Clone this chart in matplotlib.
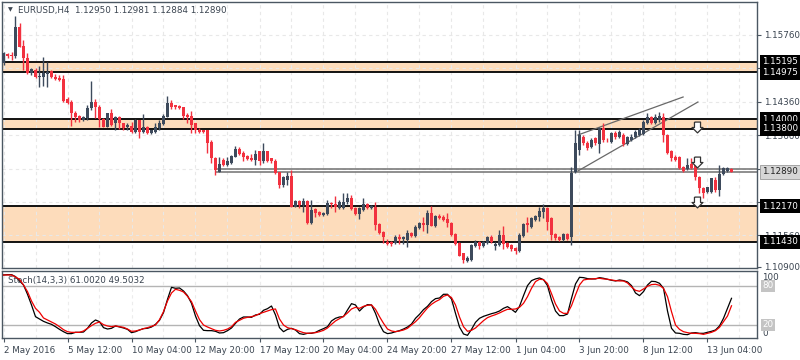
import numpy as np
import matplotlib
matplotlib.use('Agg')
import matplotlib.pyplot as plt
from matplotlib import transforms

plt.rcParams['font.family'] = ['DejaVu Sans']

# EURUSD H4 candles, 2 May 2016 20:00 onwards
opens = [1.1517, 1.1536, 1.1534, 1.1531, 1.1593, 1.1553, 1.1528, 1.1496, 1.1503, 1.1488,
         1.1488, 1.1494, 1.1501, 1.1488, 1.1486, 1.1484, 1.1441, 1.1436, 1.1413, 1.1406,
         1.1397, 1.1402, 1.1423, 1.1436, 1.1426, 1.1400, 1.1384, 1.1412, 1.1392, 1.1404,
         1.1391, 1.1383, 1.1385, 1.1373, 1.1397, 1.1373, 1.1384, 1.1371, 1.1373, 1.1381,
         1.1390, 1.1405, 1.1433, 1.1429, 1.1428, 1.1425, 1.1408, 1.1406, 1.1391, 1.1378,
         1.1376, 1.1376, 1.1352, 1.1318, 1.1290, 1.1314, 1.1304, 1.1307, 1.1321, 1.1337,
         1.1329, 1.1323, 1.1318, 1.1314, 1.1332, 1.1311, 1.1332, 1.1318, 1.1311, 1.1288,
         1.1262, 1.1272, 1.1281, 1.1216, 1.1229, 1.1220, 1.1229, 1.1183, 1.1211, 1.1206,
         1.1199, 1.1201, 1.1224, 1.1223, 1.1213, 1.1213, 1.1227, 1.1234, 1.1213, 1.1201,
         1.1209, 1.1223, 1.1213, 1.1216, 1.1180, 1.1164, 1.1143, 1.1143, 1.1140, 1.1153,
         1.1148, 1.1147, 1.1162, 1.1155, 1.1171, 1.1183, 1.1178, 1.1203, 1.1176, 1.1197,
         1.1195, 1.1190, 1.1183, 1.1159, 1.1140, 1.1119, 1.1103, 1.1105, 1.1134, 1.1143,
         1.1134, 1.1140, 1.1153, 1.1134, 1.1136, 1.1157, 1.1141, 1.1136, 1.1129, 1.1124,
         1.1155, 1.1182, 1.1173, 1.1188, 1.1195, 1.1206, 1.1213, 1.1192, 1.1159, 1.1153,
         1.1147, 1.1159, 1.1153, 1.1288, 1.1335, 1.1362, 1.1350, 1.1342, 1.1360, 1.1348,
         1.1381, 1.1357, 1.1352, 1.1371, 1.1362, 1.1366, 1.1348, 1.1356, 1.1363, 1.1366,
         1.1369, 1.1391, 1.1404, 1.1391, 1.1398, 1.1405, 1.1366, 1.1332, 1.1321, 1.1320,
         1.1300, 1.1295, 1.1306, 1.1304, 1.1279, 1.1255, 1.1248, 1.1248, 1.1272, 1.1251,
         1.1284, 1.1292, 1.12950]
highs = [1.1540, 1.1539, 1.1541, 1.1616, 1.1601, 1.1565, 1.1538, 1.1507, 1.1507, 1.1511,
         1.1530, 1.1519, 1.1503, 1.1494, 1.1492, 1.1492, 1.1446, 1.1440, 1.1417, 1.1408,
         1.1406, 1.1429, 1.1480, 1.1441, 1.1429, 1.1402, 1.1413, 1.1420, 1.1406, 1.1406,
         1.1392, 1.1391, 1.1394, 1.1401, 1.1398, 1.1410, 1.1385, 1.1377, 1.1392, 1.1397,
         1.1410, 1.1448, 1.1440, 1.1430, 1.1430, 1.1426, 1.1412, 1.1417, 1.1392, 1.1381,
         1.1378, 1.1377, 1.1357, 1.1321, 1.1321, 1.1318, 1.1321, 1.1325, 1.1344, 1.1342,
         1.1332, 1.1324, 1.1327, 1.1335, 1.1333, 1.1350, 1.1333, 1.1319, 1.1316, 1.1290,
         1.1281, 1.1290, 1.1293, 1.1230, 1.1230, 1.1234, 1.1230, 1.1230, 1.1213, 1.1208,
         1.1206, 1.1230, 1.1227, 1.1239, 1.1230, 1.1244, 1.1244, 1.1241, 1.1215, 1.1215,
         1.1234, 1.1225, 1.1220, 1.1227, 1.1182, 1.1166, 1.1148, 1.1145, 1.1157, 1.1159,
         1.1155, 1.1168, 1.1164, 1.1178, 1.1185, 1.1195, 1.1209, 1.1218, 1.1199, 1.1201,
         1.1199, 1.1203, 1.1185, 1.1161, 1.1143, 1.1120, 1.1112, 1.1138, 1.1147, 1.1145,
         1.1145, 1.1155, 1.1157, 1.1143, 1.1168, 1.1176, 1.1143, 1.1138, 1.1131, 1.1161,
         1.1183, 1.1195, 1.1195, 1.1199, 1.1216, 1.1222, 1.1215, 1.1194, 1.1162, 1.1155,
         1.1161, 1.1162, 1.1299, 1.1377, 1.1377, 1.1366, 1.1354, 1.1360, 1.1362, 1.1384,
         1.1391, 1.1360, 1.1373, 1.1375, 1.1377, 1.1371, 1.1364, 1.1369, 1.1377, 1.1381,
         1.1398, 1.1412, 1.1406, 1.1410, 1.1415, 1.1412, 1.1369, 1.1335, 1.1325, 1.1323,
         1.1302, 1.1318, 1.1318, 1.1307, 1.1281, 1.1258, 1.1258, 1.1277, 1.1279, 1.1304,
         1.1299, 1.1300, 1.12981]
lows = [1.1513, 1.1528, 1.1524, 1.1528, 1.1550, 1.1503, 1.1495, 1.1492, 1.1486, 1.1467,
        1.1469, 1.1467, 1.1486, 1.1482, 1.1480, 1.1436, 1.1431, 1.1385, 1.1394, 1.1394,
        1.1395, 1.1398, 1.1419, 1.1402, 1.1383, 1.1383, 1.1383, 1.1385, 1.1377, 1.1379,
        1.1378, 1.1378, 1.1371, 1.1371, 1.1360, 1.1371, 1.1369, 1.1369, 1.1371, 1.1378,
        1.1387, 1.1404, 1.1420, 1.1422, 1.1422, 1.1401, 1.1392, 1.1371, 1.1370, 1.1370,
        1.1371, 1.1329, 1.1308, 1.1283, 1.1288, 1.1302, 1.1302, 1.1306, 1.1320, 1.1325,
        1.1311, 1.1314, 1.1313, 1.1304, 1.1304, 1.1308, 1.1310, 1.1308, 1.1285, 1.1255,
        1.1257, 1.1262, 1.1215, 1.1215, 1.1213, 1.1206, 1.1180, 1.1180, 1.1194, 1.1197,
        1.1197, 1.1199, 1.1213, 1.1206, 1.1211, 1.1211, 1.1223, 1.1209, 1.1199, 1.1190,
        1.1208, 1.1211, 1.1211, 1.1168, 1.1159, 1.1141, 1.1136, 1.1134, 1.1138, 1.1138,
        1.1138, 1.1131, 1.1153, 1.1152, 1.1169, 1.1166, 1.1161, 1.1175, 1.1174, 1.1190,
        1.1187, 1.1173, 1.1155, 1.1136, 1.1112, 1.1099, 1.1101, 1.1103, 1.1131, 1.1127,
        1.1132, 1.1138, 1.1140, 1.1126, 1.1134, 1.1127, 1.1129, 1.1124, 1.1117, 1.1122,
        1.1153, 1.1164, 1.1171, 1.1187, 1.1187, 1.1192, 1.1168, 1.1147, 1.1147, 1.1145,
        1.1145, 1.1147, 1.1136, 1.1286, 1.1325, 1.1346, 1.1335, 1.1339, 1.1346, 1.1328,
        1.1352, 1.1352, 1.1350, 1.1358, 1.1360, 1.1343, 1.1346, 1.1354, 1.1361, 1.1364,
        1.1366, 1.1390, 1.1390, 1.1390, 1.1394, 1.1352, 1.1327, 1.1311, 1.1312, 1.1295,
        1.1290, 1.1293, 1.1295, 1.1272, 1.1244, 1.1234, 1.1244, 1.1246, 1.1248, 1.1239,
        1.1283, 1.1290, 1.12884]
closes = [1.1538, 1.1533, 1.1531, 1.1593, 1.1551, 1.1528, 1.1496, 1.1505, 1.1488, 1.1490,
          1.1496, 1.1498, 1.1488, 1.1484, 1.1482, 1.1438, 1.1434, 1.1412, 1.1404, 1.1397,
          1.1405, 1.1423, 1.1436, 1.1425, 1.1401, 1.1384, 1.1412, 1.1387, 1.1405, 1.1391,
          1.1381, 1.1387, 1.1373, 1.1397, 1.1373, 1.1383, 1.1371, 1.1376, 1.1383, 1.1391,
          1.1406, 1.1434, 1.1425, 1.1426, 1.1424, 1.1406, 1.1405, 1.1387, 1.1378, 1.1373,
          1.1373, 1.1350, 1.1318, 1.1293, 1.1306, 1.1304, 1.1313, 1.1323, 1.1337, 1.1327,
          1.1321, 1.1316, 1.1314, 1.1327, 1.1311, 1.1332, 1.1312, 1.1311, 1.1286, 1.1262,
          1.1278, 1.1281, 1.1216, 1.1229, 1.1220, 1.1229, 1.1183, 1.1209, 1.1204, 1.1199,
          1.1204, 1.1225, 1.1223, 1.1215, 1.1227, 1.1227, 1.1234, 1.1211, 1.1201, 1.1213,
          1.1223, 1.1213, 1.1218, 1.1178, 1.1162, 1.1153, 1.1138, 1.1138, 1.1153, 1.1148,
          1.1153, 1.1162, 1.1155, 1.1173, 1.1183, 1.1178, 1.1203, 1.1176, 1.1197, 1.1192,
          1.1188, 1.1183, 1.1157, 1.1138, 1.1113, 1.1105, 1.1108, 1.1136, 1.1143, 1.1134,
          1.1143, 1.1153, 1.1143, 1.1138, 1.1157, 1.1138, 1.1132, 1.1127, 1.1124, 1.1157,
          1.1180, 1.1178, 1.1192, 1.1197, 1.1208, 1.1213, 1.1185, 1.1157, 1.1150, 1.1147,
          1.1159, 1.1148, 1.1286, 1.1349, 1.1366, 1.1349, 1.1339, 1.1357, 1.1349, 1.1381,
          1.1355, 1.1355, 1.1371, 1.1362, 1.1373, 1.1348, 1.1362, 1.1363, 1.1373, 1.1377,
          1.1394, 1.1404, 1.1392, 1.1404, 1.1406, 1.1366, 1.1328, 1.1318, 1.1314, 1.1297,
          1.1292, 1.1304, 1.1297, 1.1279, 1.1255, 1.1244, 1.1257, 1.1276, 1.1251, 1.1284,
          1.1297, 1.1297, 1.12890]

# Stochastic (14,3,3): main and signal
stoch_main = [96.9, 97.4, 97.4, 94.4, 87.7, 81.5, 67.2, 50.8, 32.8, 29.2,
              25.6, 23.1, 21.0, 17.4, 13.3, 9.7, 6.7, 6.7, 8.7, 8.7,
              9.2, 14.9, 23.1, 27.7, 25.1, 15.9, 13.8, 14.9, 18.5, 16.9,
              15.4, 13.3, 8.2, 9.7, 12.3, 14.4, 14.9, 16.9, 21.0, 27.2,
              39.0, 59.5, 77.9, 76.4, 76.9, 72.3, 65.1, 53.3, 33.8, 19.0,
              11.8, 11.3, 11.3, 10.3, 7.7, 8.2, 11.3, 15.4, 22.6, 29.2,
              32.3, 32.3, 31.8, 35.4, 36.4, 42.6, 45.1, 49.2, 35.4, 15.9,
              9.7, 13.3, 14.9, 12.3, 6.7, 5.6, 7.2, 7.2, 8.7, 11.8,
              14.4, 17.4, 26.2, 30.3, 32.3, 32.8, 43.1, 52.8, 50.8, 41.5,
              47.7, 51.3, 50.8, 37.9, 21.0, 9.7, 6.7, 7.7, 9.7, 11.3,
              13.8, 16.9, 21.5, 30.3, 36.4, 43.6, 48.7, 55.9, 60.5, 61.5,
              67.2, 67.2, 60.0, 37.9, 16.9, 6.2, 4.1, 13.3, 24.1, 30.3,
              33.3, 35.4, 37.4, 39.0, 41.5, 45.6, 48.2, 44.1, 39.5, 48.7,
              65.1, 80.5, 88.2, 90.8, 92.3, 89.7, 80.5, 58.5, 41.5, 34.4,
              34.4, 36.9, 61.0, 83.1, 93.3, 92.8, 91.3, 90.8, 90.8, 92.8,
              91.8, 90.3, 88.7, 87.7, 89.2, 88.2, 86.2, 80.5, 69.2, 65.1,
              71.3, 81.5, 87.2, 86.7, 84.1, 76.4, 41.5, 14.9, 7.7, 7.2,
              5.6, 5.1, 7.7, 8.2, 7.2, 7.2, 8.7, 10.3, 12.3, 18.5,
              30.3, 45.6, 61.0]
stoch_signal = [96.9, 96.9, 96.9, 93.8, 90.3, 81.5, 71.3, 56.9, 45.6, 39.5,
                30.8, 27.7, 24.6, 21.5, 17.4, 12.8, 9.7, 8.7, 8.7, 8.7,
                10.8, 14.9, 19.0, 22.6, 24.6, 20.5, 18.5, 17.4, 18.5, 17.4,
                16.4, 13.8, 10.3, 10.8, 12.3, 14.4, 15.9, 17.9, 20.0, 28.2,
                40.5, 56.9, 69.2, 74.9, 73.3, 70.8, 64.1, 55.9, 41.5, 28.2,
                20.0, 16.9, 14.4, 11.8, 10.8, 11.8, 13.8, 17.4, 24.1, 27.2,
                30.3, 31.8, 32.8, 34.4, 37.4, 39.5, 41.5, 43.6, 44.6, 29.2,
                20.0, 15.9, 14.4, 12.8, 10.3, 8.2, 7.2, 7.7, 8.2, 9.7,
                11.8, 15.4, 21.0, 26.2, 29.7, 33.3, 38.5, 44.6, 47.2, 45.6,
                48.7, 50.3, 50.8, 44.1, 32.8, 22.6, 13.8, 10.8, 9.7, 10.8,
                12.3, 14.9, 20.0, 25.1, 31.3, 39.0, 46.2, 51.8, 55.9, 59.0,
                64.1, 66.2, 62.1, 50.8, 32.3, 17.4, 10.3, 11.8, 15.4, 21.0,
                26.7, 31.3, 33.8, 35.9, 38.5, 41.5, 44.1, 44.1, 44.6, 47.2,
                53.3, 63.6, 76.4, 86.7, 90.3, 89.7, 83.6, 68.2, 52.3, 41.5,
                37.9, 37.9, 49.7, 66.2, 81.5, 89.2, 90.3, 90.8, 91.3, 91.8,
                90.8, 90.3, 89.2, 88.2, 87.7, 87.7, 84.6, 78.5, 73.3, 71.8,
                75.4, 79.5, 82.1, 82.6, 81.0, 76.4, 63.6, 40.5, 20.0, 13.3,
                9.7, 8.2, 7.2, 7.2, 6.7, 5.6, 7.2, 8.7, 11.3, 16.4,
                25.1, 33.8, 49.5]

time_labels = ['2 May 2016', '5 May 12:00', '10 May 04:00', '12 May 20:00',
               '17 May 12:00', '20 May 04:00', '24 May 20:00', '27 May 12:00',
               '1 Jun 04:00', '3 Jun 20:00', '8 Jun 12:00', '13 Jun 04:00']
label_bars = list(range(0, 177, 16))

grid_prices = [1.15760, 1.15060, 1.14360, 1.13660, 1.12960, 1.12260, 1.11560, 1.10900]
# grid levels whose price label sits under a boxed level label
covered_prices = [1.15060, 1.12960, 1.12260]
zones = [(1.14975, 1.15195), (1.13800, 1.14000), (1.11430, 1.12170)]
price_lines = [1.12950, 1.12890]
price_lines_from = 53
wedge_upper = ([143.6, 169.9], [1.13665, 1.14461])
wedge_lower = ([143.6, 173.6], [1.12911, 1.14356])
arrow_bar = 173.5
arrow_prices = [1.13833, 1.13089, 1.12262]
boxed_black = [1.15195, 1.14975, 1.14000, 1.13800, 1.12170, 1.11430]
last_price = 1.12890

bull = '#3d4a5c'
bear = '#f2313f'
frame = '#4b5762'
txt = '#3a4450'
fs = 6.3

o = np.array(opens); h = np.array(highs); l = np.array(lows); c = np.array(closes)
idx = np.arange(len(c))
cols = np.where(c >= o, bull, bear)

fig = plt.figure(figsize=(8, 3.6), dpi=100)
W, H = 800.0, 360.0


def px_box(left, top, right, bottom):
    return [left / W, 1 - bottom / H, (right - left) / W, (bottom - top) / H]


ax = fig.add_axes(px_box(2, 2, 757, 268))
ax2 = fig.add_axes(px_box(2, 271, 757, 338))
x0, x1 = -0.375, 188.375

# main price panel
for lo, hi in zones:
    ax.axhspan(lo, hi, color='#fddcbb', lw=0, zorder=1)
for gp in grid_prices[:-1]:
    ax.axhline(gp, color='#e8e8e8', lw=0.8, ls=(0, (3, 3)), zorder=1.5)
for gx in range(0, 189, 8):
    ax.axvline(gx, color='#e8e8e8', lw=0.8, ls=(0, (3, 3)), zorder=1.5)
    ax2.axvline(gx, color='#ececec', lw=0.8, ls=(0, (3, 3)), zorder=1)
for lo, hi in zones:
    ax.axhline(lo, color='black', lw=1.3, zorder=2)
    ax.axhline(hi, color='black', lw=1.3, zorder=2)
ax.hlines(price_lines, price_lines_from, x1, color='#707070', lw=1.1, zorder=2)
ax.plot(*wedge_upper, color='#686868', lw=0.9, zorder=2.2)
ax.plot(*wedge_lower, color='#686868', lw=0.9, zorder=2.2)

ax.vlines(idx, l, h, colors=cols, lw=1, zorder=2.9)
body = np.maximum(np.abs(c - o), 0.00012)
ax.bar(idx, body, bottom=np.minimum(o, c), width=0.74, color=cols, lw=0, zorder=3)

arrow = [(-0.28, 0.5), (0.28, 0.5), (0.28, 0.0), (0.5, 0.0), (0.0, -0.5),
         (-0.5, 0.0), (-0.28, 0.0), (-0.28, 0.5)]
ax.plot([arrow_bar] * len(arrow_prices), arrow_prices, ls='none', marker=arrow,
        ms=7.8, mfc='white', mec='#333333', mew=0.9, zorder=4)

ax.set_xlim(x0, x1)
ax.set_ylim(1.10879, 1.16451)
ax.set_xticks([])
ax.yaxis.tick_right()
ax.set_yticks(grid_prices)
ax.set_yticklabels(['' if p in covered_prices else '%.5f' % p for p in grid_prices])
ax.tick_params(axis='y', length=3, width=0.8, color=frame, labelsize=fs,
               labelcolor=txt, pad=2)
for s in ax.spines.values():
    s.set_color(frame)
    s.set_linewidth(1)

tr = transforms.blended_transform_factory(ax.transAxes, ax.transData)
for p in boxed_black:
    ax.text(1.0068, p, '%.5f' % p, transform=tr, ha='left', va='center',
            fontsize=fs, color='white', clip_on=False, zorder=6,
            bbox=dict(boxstyle='square,pad=0.3', fc='black', ec='none'))
ax.text(1.0068, last_price, '%.5f' % last_price, transform=tr, ha='left', va='center',
        fontsize=fs, color='#222222', clip_on=False, zorder=6,
        bbox=dict(boxstyle='square,pad=0.3', fc='#d6d6d6', ec='#9a9a9a', lw=0.6))

fig.text(8 / W, 1 - 9.5 / H, '\u25bc', fontsize=4.5, color=txt, va='center')
fig.text(18 / W, 1 - 10 / H, 'EURUSD,H4  1.12950 1.12981 1.12884 1.12890',
         fontsize=fs, color=txt, va='center')

# stochastic panel
ax2.axhline(80, color='#b4b4b4', lw=1, zorder=1.5)
ax2.axhline(20, color='#b4b4b4', lw=1, zorder=1.5)
ax2.plot(idx, stoch_main, color='black', lw=0.9, zorder=3)
ax2.plot(idx, stoch_signal, color='#ee0000', lw=0.9, zorder=3.1)
ax2.set_xlim(x0, x1)
ax2.set_ylim(0, 103)
ax2.set_yticks([])
ax2.set_xticks(label_bars)
ax2.set_xticklabels(time_labels, ha='left')
ax2.tick_params(axis='x', length=3, width=0.8, color=frame, labelsize=fs,
                labelcolor=txt, pad=2.5)
for s in ax2.spines.values():
    s.set_color(frame)
    s.set_linewidth(1)
ax2.text(0.008, 0.865, 'Stoch(14,3,3) 61.0020 49.5032', transform=ax2.transAxes,
         fontsize=fs, color=txt, va='center', ha='left')
tr2 = transforms.blended_transform_factory(ax2.transAxes, ax2.transData)
ax2.text(1.0068, 100, '100', transform=tr2, fontsize=fs, color=txt, va='top',
         clip_on=False)
ax2.text(1.0068, 0, '0', transform=tr2, fontsize=fs, color=txt, va='bottom',
         clip_on=False)
for lvl in (80, 20):
    ax2.text(1.0068, lvl, str(lvl), transform=tr2, fontsize=fs, color='white',
             va='center', clip_on=False,
             bbox=dict(boxstyle='square,pad=0.15', fc='#c4c4c4', ec='none'))

fig.savefig('out.png', dpi=100, facecolor='white')
